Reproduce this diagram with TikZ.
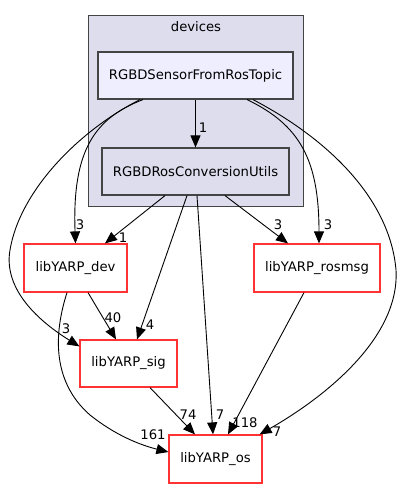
\documentclass[tikz,border=0pt]{standalone}
\usepackage{fontspec}
\setmainfont{DejaVu Sans}
\usetikzlibrary{arrows.meta,calc}
\definecolor{clfill}{HTML}{DDDDEE}
\definecolor{sfill}{HTML}{EEEEFF}
\definecolor{bord}{HTML}{444444}
\definecolor{redb}{HTML}{FF3333}
\begin{document}
\begin{tikzpicture}[x=1pt,y=-1pt,
  every node/.style={font=\fontsize{13.2}{15}\selectfont, inner sep=0pt},
  cluster/.style={draw=bord, fill=clfill, line width=1pt},
  dirbox/.style={draw=bord, line width=1.2pt},
  libbox/.style={draw=redb, fill=white, line width=1.2pt},
  dep/.style={draw=black, line width=0.9pt, -{Triangle[length=12pt,width=10pt]}},
  lbl/.style={font=\fontsize{13.2}{15}\selectfont}
]
\useasboundingbox (0,0) rectangle (403,489);
\node[cluster, minimum width=215pt, minimum height=190pt] (devices) at (195.5,111) {};
\node (devlabel) at (196,27) {devices};
\node[dirbox, fill=sfill, minimum width=195pt, minimum height=47pt] (sensor) at (195.5,75.5) {RGBDSensorFromRosTopic};
\node[dirbox, fill=clfill, minimum width=187pt, minimum height=47pt] (conv) at (195.5,171.5) {RGBDRosConversionUtils};
\node[libbox, minimum width=103pt, minimum height=48pt] (dev) at (75.5,268) {libYARP\_dev};
\node[libbox, minimum width=126pt, minimum height=48pt] (rosmsg) at (317,268) {libYARP\_rosmsg};
\node[libbox, minimum width=97pt, minimum height=47pt] (sig) at (128.5,363.5) {libYARP\_sig};
\node[libbox, minimum width=93pt, minimum height=48pt] (os) at (215.5,459) {libYARP\_os};

% sensor -> conv
\draw[dep] (sensor.south) -- (conv.north);
\node[lbl] (l1) at (203,128) {1};
% sensor -> dev
\draw[dep] ([xshift=-52.5pt]sensor.south) .. controls (95,118) and (72,150) .. (dev.north);
\node[lbl] (l2) at (80,225) {3};
% sensor -> sig
\draw[dep] ([xshift=-55.5pt]sensor.south) .. controls (80,130) and (20,190) .. (10,250)
   .. controls (3,290) and (40,322) .. ([yshift=-7pt]sig.north west);
\node[lbl] (l3) at (66,329) {3};
% sensor -> rosmsg
\draw[dep] ([xshift=51.5pt]sensor.south) .. controls (300,125) and (319,160) .. ([xshift=2pt]rosmsg.north);
\node[lbl] (l4) at (328,225) {3};
% sensor -> os
\draw[dep] ([xshift=57.5pt]sensor.south) .. controls (330,140) and (390,200) .. (396,270)
   .. controls (400,340) and (320,400) .. ([xshift=-3pt]os.north east);
\node[lbl] (l5) at (277,432) {7};
% conv -> dev
\draw[dep] ([xshift=-30.5pt]conv.south) -- ([xshift=29.5pt]dev.north);
\node[lbl] (l6) at (123,238) {1};
% conv -> sig
\draw[dep] ([xshift=-8.5pt]conv.south) -- ([xshift=8.5pt]sig.north);
\node[lbl] (l7) at (150,325) {4};
% conv -> os
\draw[dep] ([xshift=1.5pt]conv.south) -- ([xshift=-2.5pt]os.north);
\node[lbl] (l8) at (220,415) {7};
% conv -> rosmsg
\draw[dep] ([xshift=29.5pt]conv.south) -- ([xshift=-29pt]rosmsg.north);
\node[lbl] (l9) at (278,225) {3};
% dev -> sig
\draw[dep] ([xshift=12.5pt]dev.south) -- ([xshift=-12.5pt]sig.north);
\node[lbl] (l10) at (113,318) {40};
% dev -> os
\draw[dep] ([xshift=-8.5pt]dev.south) .. controls (55,330) and (50,380) .. (90,415)
   .. controls (115,435) and (140,445) .. ([yshift=7pt]os.west);
\node[lbl] (l11) at (153,435) {161};
% sig -> os
\draw[dep] ([xshift=21.5pt]sig.south) -- ([xshift=-20.5pt]os.north);
\node[lbl] (l12) at (188,415) {74};
% rosmsg -> os
\draw[dep] ([xshift=-13pt]rosmsg.south) -- ([xshift=12.5pt]os.north);
\node[lbl] (l13) at (245,423) {118};
\end{tikzpicture}
\end{document}
